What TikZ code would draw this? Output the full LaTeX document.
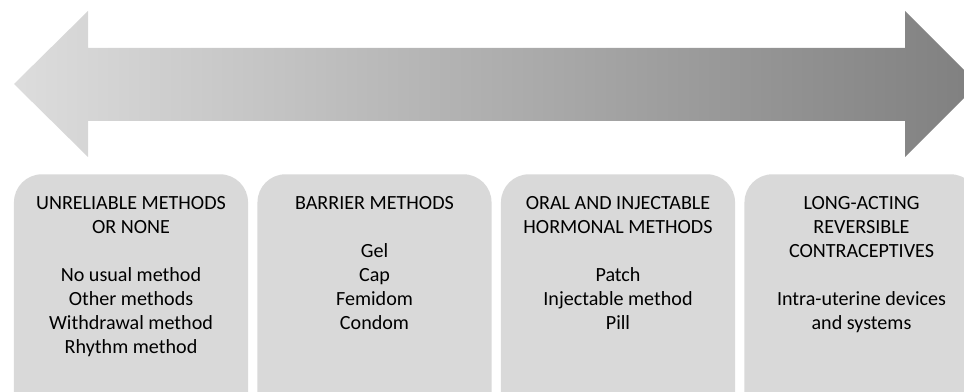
\documentclass[tikz,border=0pt]{standalone}
\usepackage{fontspec}
\setmainfont{Carlito}
\usetikzlibrary{positioning}

\begin{document}
\begin{tikzpicture}[x=0.025cm, y=-0.025cm,
      grp/.style={fill=gray!30, rounded corners=0.7cm, minimum width=5.85cm,
                  minimum height=6.4cm, anchor=north, inner sep=0pt},
      lst/.style={font=\fontsize{14.3}{17.07}\selectfont, align=center,
                  anchor=north, inner sep=0pt},
      band/.style={shading=axis, left color=gray!27, right color=black!50,
                   shading angle=90}]

    \def\bx{243.5} % box spacing
    \def\bt{174}   % box top

    \clip (0,0) rectangle (964,392);

    % === double arrow ===
    \path[band] (14,84) -- (88,11) -- (88,48) -- (905,48) -- (905,11)
        -- (978,84) -- (905,157) -- (905,121) -- (88,121) -- (88,157) -- cycle;

    % === method groups ===
    \node[grp] (grp1) at (131, \bt) {};
    \node[grp] (grp2) at (131+\bx, \bt) {};
    \node[grp] (grp3) at (131+2*\bx, \bt) {};
    \node[grp] (grp4) at (131+3*\bx, \bt) {};

    \node[lst] (txt1) at (131, 196) {UNRELIABLE METHODS\\OR NONE\\[0.6cm]
        No usual method\\Other methods\\Withdrawal method\\Rhythm method};
    \node[lst] (txt2) at (131+\bx, 196) {BARRIER METHODS\\[0.6cm]
        Gel\\Cap\\Femidom\\Condom};
    \node[lst] (txt3) at (131+2*\bx, 196) {ORAL AND INJECTABLE\\HORMONAL METHODS\\[0.6cm]
        Patch\\Injectable method\\Pill};
    \node[lst] (txt4) at (131+3*\bx, 196) {LONG-ACTING\\REVERSIBLE\\CONTRACEPTIVES\\[0.6cm]
        Intra-uterine devices\\and systems};

\end{tikzpicture}
\end{document}
